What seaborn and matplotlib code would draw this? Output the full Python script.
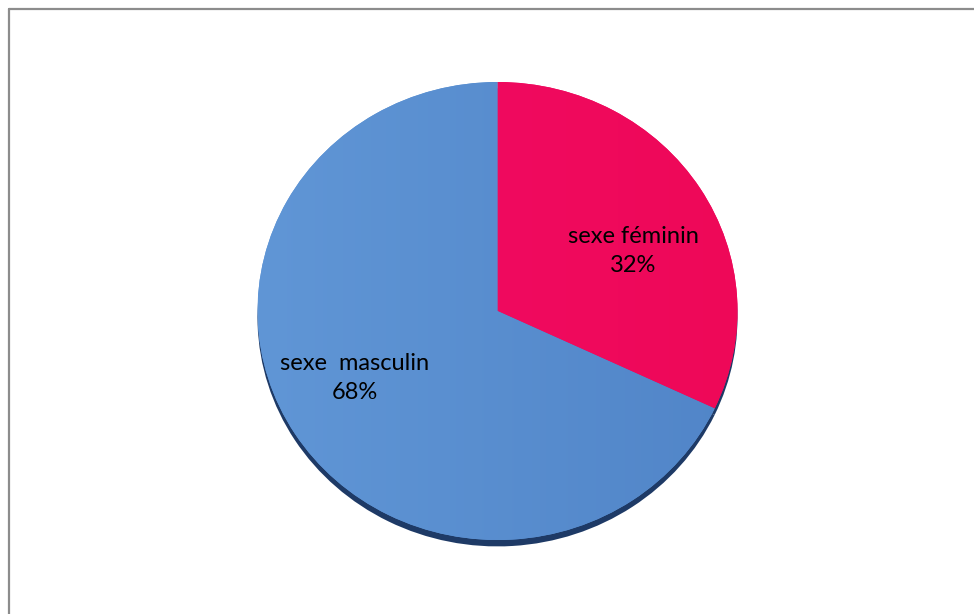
import numpy as np
import matplotlib
matplotlib.use("Agg")
import matplotlib.pyplot as plt
from matplotlib.lines import Line2D
import seaborn as sns

# ---- data ----
categories = ["sexe féminin", "sexe  masculin"]
values = [32, 68]
colors_left = ["#F20C66", "#6096D6"]
colors_right = ["#EE0858", "#5185C8"]
shadow_color = "#1E3A66"

sns.set_theme(style="white")
plt.rcParams['font.family'] = ['Lato', 'DejaVu Sans']

W, H = 974, 614
fig = plt.figure(figsize=(W / 100, H / 100), dpi=100)
fig.patch.set_facecolor("white")

x0, x1, ytop, ybot = 257.5, 737.5, 82, 540
ax = fig.add_axes([x0 / W, (H - ybot - 0.05 * 229) / H, (x1 - x0) / W,
                   (ybot - ytop + 0.05 * 229) / H])

# shadow pie (slightly lower)
ax.pie(values, colors=[shadow_color] * len(values), startangle=90, counterclock=False,
       center=(0, -0.028), radius=1.0, wedgeprops=dict(linewidth=0))

wedges, _ = ax.pie(values, colors=colors_left, startangle=90, counterclock=False,
                   radius=1.0, wedgeprops=dict(linewidth=0))

# horizontal gradient fill clipped to each wedge
for w, cl, cr in zip(wedges, colors_left, colors_right):
    c1 = np.array(matplotlib.colors.to_rgb(cl))
    c2 = np.array(matplotlib.colors.to_rgb(cr))
    t = np.linspace(0, 1, 256)[None, :, None]
    img = c1 * (1 - t) + c2 * t
    im = ax.imshow(img, extent=[-1, 1, -1, 1], aspect="auto", zorder=w.get_zorder() + 0.1,
                   interpolation="bilinear")
    im.set_clip_path(w)

ax.set_xlim(-1, 1)
ax.set_ylim(-1.05, 1)
ax.set_aspect("auto")
ax.axis("off")

# labels
label_pos = [(0.565, 0.262), (-0.594, -0.292)]
for cat, v, (lx, ly) in zip(categories, values, label_pos):
    ax.text(lx, ly, f"{cat}\n{v}%", ha="center", va="center", fontsize=17,
            color="black", linespacing=1.45, zorder=10)

# frame lines (top and left, as in the cropped source)
fig.add_artist(Line2D([8.5 / W, 8.5 / W], [0, 1 - 8.5 / H], transform=fig.transFigure,
                      color="#8C8C8C", linewidth=1.6))
fig.add_artist(Line2D([8.5 / W, 1], [1 - 8.5 / H, 1 - 8.5 / H], transform=fig.transFigure,
                      color="#8C8C8C", linewidth=1.6))

fig.savefig("out.png", dpi=100, facecolor="white")
